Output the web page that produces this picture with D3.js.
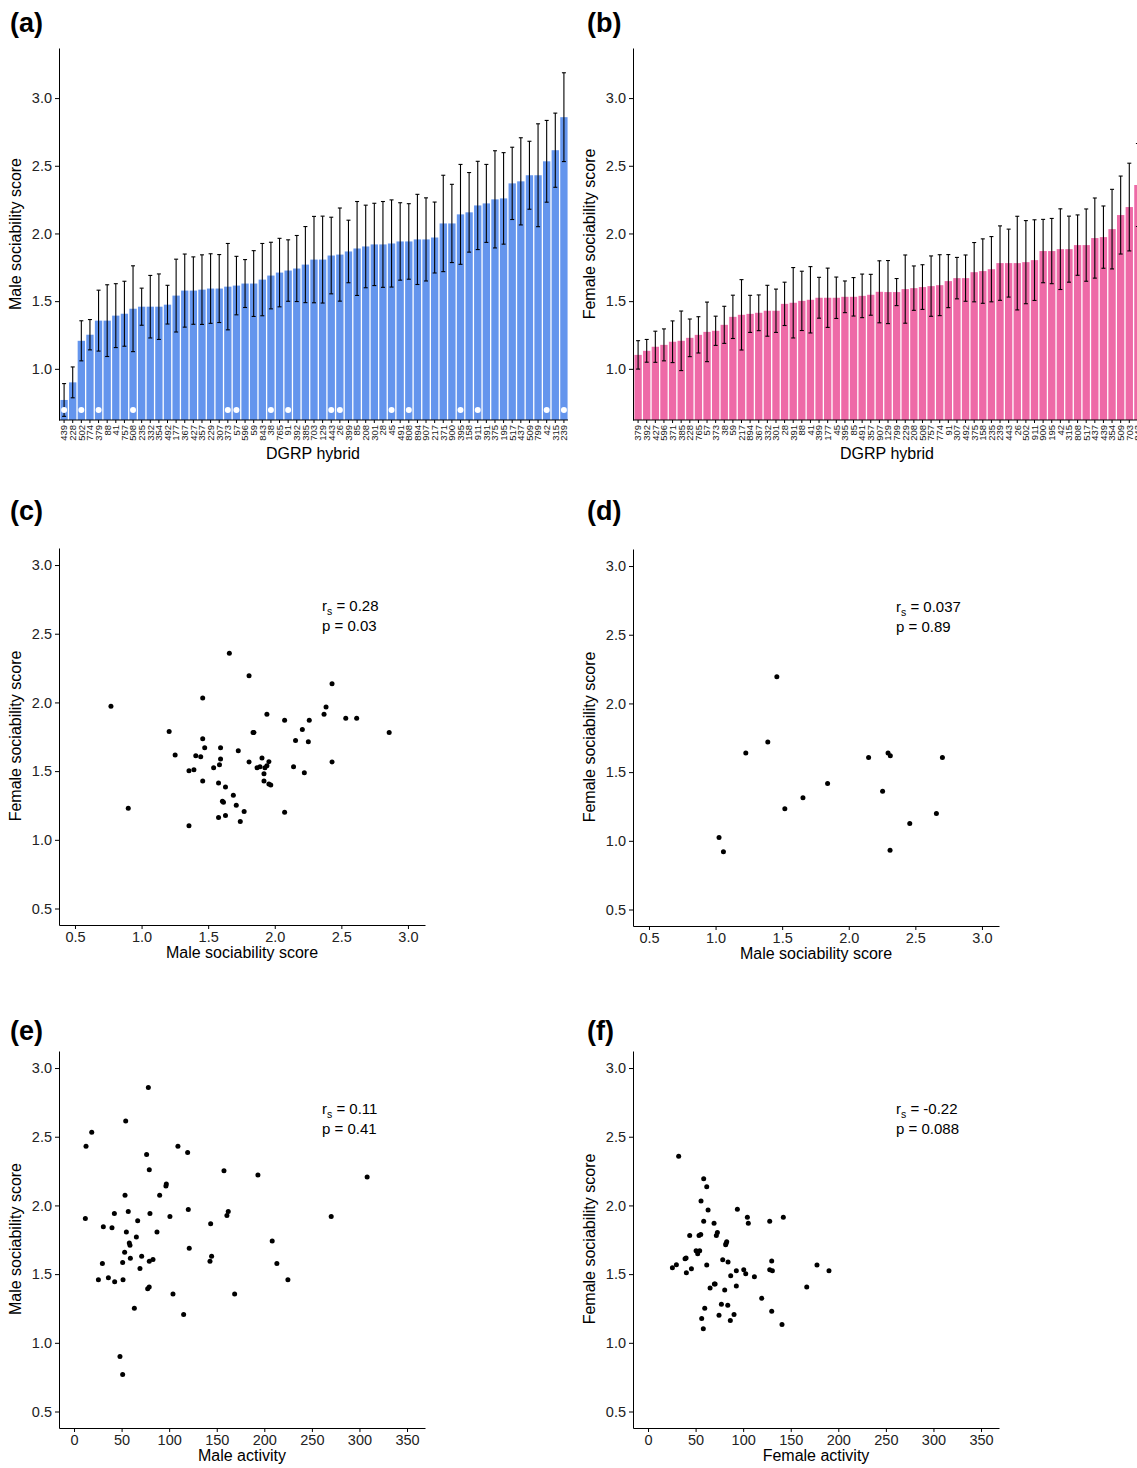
<!DOCTYPE html>
<html>
<head>
<meta charset="utf-8">
<script src="https://cdn.jsdelivr.net/npm/d3@7"></script>
<style>
  body { margin: 0; background: #fff; }
  svg { font-family: 'Liberation Sans', Arial, sans-serif; }
  .axis path, .axis line { stroke: #000; }
  .axis text { fill: #222; font-size: 14.5px; }
  .title { font-size: 16px; fill: #000; }
  .panel-label { font-size: 27px; font-weight: bold; }
  .note { font-size: 15px; fill: #000; }
</style>
</head>
<body>
<svg id="fig" width="1137" height="1468"></svg>
<script>
// panel (a) - male sociability per DGRP hybrid, sorted
const maleLines = ['439','228','502','774','379','88','41','757','508','235','332','354','492','177','367','427','357','229','307','373','57','596','59','843','38','765','91','392','385','703','129','443','26','399','85','208','301','28','45','491','808','894','907','217','371','900','395','158','911','391','375','195','517','437','509','799','42','315','239'];
const maleScore = [0.77,0.90,1.207,1.252,1.356,1.356,1.393,1.407,1.444,1.459,1.459,1.459,1.474,1.541,1.578,1.578,1.585,1.593,1.593,1.607,1.615,1.630,1.630,1.659,1.689,1.711,1.726,1.741,1.770,1.807,1.807,1.837,1.844,1.867,1.889,1.904,1.919,1.919,1.926,1.941,1.941,1.956,1.956,1.970,2.074,2.074,2.141,2.156,2.207,2.222,2.252,2.259,2.370,2.385,2.430,2.430,2.533,2.615,2.859];
const maleSE = [0.121,0.114,0.148,0.112,0.225,0.265,0.236,0.240,0.317,0.137,0.231,0.242,0.143,0.269,0.270,0.249,0.257,0.257,0.251,0.319,0.216,0.177,0.243,0.267,0.246,0.253,0.227,0.244,0.281,0.319,0.321,0.283,0.344,0.231,0.347,0.305,0.304,0.317,0.322,0.286,0.279,0.333,0.307,0.262,0.356,0.289,0.369,0.294,0.326,0.288,0.359,0.338,0.267,0.322,0.251,0.380,0.302,0.274,0.328];
const markedLines = ['439','502','379','508','373','57','38','91','443','26','45','808','395','911','42','239'];

// panel (b) - female sociability per DGRP hybrid, sorted
const femaleLines = ['379','392','427','596','371','385','228','765','57','373','38','59','217','894','367','332','301','28','391','88','41','399','177','45','395','85','491','357','907','129','799','229','208','508','757','774','91','307','492','375','158','235','239','443','26','502','911','900','195','42','315','808','517','437','439','354','509','703','843'];
const femaleScore = [1.103,1.133,1.163,1.177,1.200,1.207,1.229,1.251,1.273,1.281,1.325,1.384,1.399,1.406,1.414,1.429,1.429,1.480,1.488,1.502,1.510,1.525,1.525,1.525,1.532,1.532,1.539,1.547,1.569,1.567,1.567,1.589,1.596,1.604,1.611,1.618,1.648,1.670,1.670,1.714,1.722,1.736,1.781,1.781,1.781,1.788,1.803,1.870,1.870,1.884,1.884,1.914,1.914,1.966,1.973,2.032,2.136,2.195,2.358];
const femaleSE = [0.105,0.084,0.115,0.118,0.154,0.220,0.139,0.134,0.220,0.108,0.137,0.160,0.260,0.137,0.132,0.188,0.160,0.160,0.260,0.219,0.245,0.151,0.219,0.153,0.117,0.142,0.161,0.151,0.229,0.233,0.100,0.252,0.164,0.165,0.223,0.225,0.196,0.153,0.171,0.219,0.238,0.241,0.275,0.251,0.346,0.307,0.298,0.234,0.241,0.298,0.244,0.223,0.267,0.296,0.230,0.294,0.288,0.324,0.307];

// panel (d) - the 16 marked lines, second measurement
const dMale = [1.460,1.392,1.227,2.149,2.295,2.312,2.703,1.841,2.254,1.656,1.520,2.658,2.458,1.026,1.059,2.310];
const dFemale = [2.195,1.720,1.640,1.606,1.640,1.620,1.606,1.418,1.360,1.314,1.234,1.199,1.126,1.024,0.920,0.932];

// panels (e), (f) - activity, same order as maleLines / femaleLines
const maleActivity = [51.1,48.3,115.2,63.4,104,168.8,77.4,79,42.7,25.6,224.8,51.5,36.1,69.3,29.8,213.2,51.1,142.9,79.1,83,59.2,71.1,144.6,53.2,121.1,58.8,58.1,208.3,65.5,87.2,55,39.9,30.8,143.6,66.9,11.9,270.3,100.8,160.7,79.8,42.4,162.1,57.0,120.1,90,53.6,96.6,97,308.1,193.3,157.6,79.1,76.3,119.4,12.6,109.2,18.6,54.3,78.1];
const femaleActivity = [58.1,140.8,86.5,56.4,74.6,90.4,130,59.6,83.8,77.1,119.5,80.6,65.2,166.8,92.8,69.7,70.5,111.8,86.9,102.7,40.3,190.2,130.7,92.8,127.9,100.6,45.6,25.6,29.8,61.7,177.6,84.1,130,78.5,38.9,40,52.2,50.5,54.3,81.6,82,82.7,43.8,53.6,71.8,55.4,72.9,69.4,105.4,127.9,58.5,104.4,142.2,63.1,93.9,55.7,61.7,58.5,32.2];

const scoreTicks = [0.5, 1.0, 1.5, 2.0, 2.5, 3.0];
const activityTicks = [0, 50, 100, 150, 200, 250, 300, 350];

const svg = d3.select('#fig');
const fmt = d3.format('.1f');

function yTitle(x, yc, text) {
  svg.append('text').attr('class', 'title')
    .attr('transform', `translate(${x},${yc}) rotate(-90)`)
    .attr('text-anchor', 'middle').text(text);
}

function barPanel(ox, lines, scores, se, color, title, marked) {
  const x = d3.scaleBand().domain(lines).range([ox + 1, ox + 509]).paddingInner(0.15).paddingOuter(0.05);
  const y = d3.scaleLinear().domain([0.622, 3.37]).range([420, 48]);
  const g = svg.append('g');
  const rows = lines.map((l, i) => ({line: l, v: scores[i], e: se[i]}));

  g.selectAll('rect').data(rows).join('rect')
    .attr('x', d => x(d.line)).attr('width', x.bandwidth())
    .attr('y', d => y(d.v)).attr('height', d => y.range()[0] - y(d.v))
    .attr('fill', color);

  const cx = d => x(d.line) + x.bandwidth() / 2;
  const eb = g.selectAll('g.err').data(rows).join('g').attr('class', 'err')
    .attr('stroke', '#000').attr('stroke-width', 1.1);
  eb.append('line').attr('x1', cx).attr('x2', cx)
    .attr('y1', d => y(d.v - d.e)).attr('y2', d => y(d.v + d.e));
  eb.append('line').attr('x1', d => cx(d) - 2).attr('x2', d => cx(d) + 2)
    .attr('y1', d => y(d.v + d.e)).attr('y2', d => y(d.v + d.e));
  eb.append('line').attr('x1', d => cx(d) - 2).attr('x2', d => cx(d) + 2)
    .attr('y1', d => y(d.v - d.e)).attr('y2', d => y(d.v - d.e));

  if (marked) {
    g.selectAll('circle').data(rows.filter(d => marked.includes(d.line))).join('circle')
      .attr('cx', cx).attr('cy', 410).attr('r', 3).attr('fill', '#fff');
  }

  svg.append('g').attr('class', 'axis')
    .attr('transform', `translate(${ox},0)`)
    .call(d3.axisLeft(y).tickValues([1, 1.5, 2, 2.5, 3]).tickFormat(fmt).tickSize(4).tickSizeOuter(0));

  const ax = svg.append('g').attr('class', 'axis')
    .attr('transform', `translate(0,420)`)
    .call(d3.axisBottom(x).tickSize(3).tickSizeOuter(0));
  ax.select('.domain').attr('d', `M${ox},0H${ox + 509}`);
  ax.selectAll('text')
    .attr('transform', 'rotate(-90)').attr('text-anchor', 'end')
    .attr('x', -5).attr('y', 0).attr('dy', '0.35em')
    .style('font-size', '9.5px');

  svg.append('text').attr('class', 'title').attr('x', ox + 254).attr('y', 459)
    .attr('text-anchor', 'middle').text('DGRP hybrid');
  yTitle(ox - 38, 234, title);
}

function scatterPanel(ox, oy, xs, ys, xDomain, xTicks, xFmt, xTitle, yTitleText, rs, p) {
  const x = d3.scaleLinear().domain(xDomain).range([ox, ox + 366]);
  const y = d3.scaleLinear().domain([0.38, 3.124]).range([oy + 377, oy]);
  const bottom = oy + 377;

  svg.append('g').selectAll('circle').data(xs.map((v, i) => [v, ys[i]])).join('circle')
    .attr('cx', d => x(d[0])).attr('cy', d => y(d[1])).attr('r', 2.5).attr('fill', '#000');

  svg.append('g').attr('class', 'axis')
    .attr('transform', `translate(${ox},0)`)
    .call(d3.axisLeft(y).tickValues(scoreTicks).tickFormat(fmt).tickSize(4).tickSizeOuter(0));
  svg.append('g').attr('class', 'axis')
    .attr('transform', `translate(0,${bottom})`)
    .call(d3.axisBottom(x).tickValues(xTicks).tickFormat(xFmt).tickSize(4).tickSizeOuter(0));

  svg.append('text').attr('class', 'title').attr('x', ox + 183).attr('y', bottom + 33)
    .attr('text-anchor', 'middle').text(xTitle);
  yTitle(ox - 38, oy + 188, yTitleText);

  const t = svg.append('text').attr('class', 'note').attr('x', ox + 263).attr('y', oy + 63);
  t.append('tspan').text('r');
  t.append('tspan').attr('dy', 4).style('font-size', '10.5px').text('s');
  t.append('tspan').attr('dy', -4).text(' = ' + rs);
  svg.append('text').attr('class', 'note').attr('x', ox + 263).attr('y', oy + 83).text('p = ' + p);
}

barPanel(59, maleLines, maleScore, maleSE, '#6495ED', 'Male sociability score', markedLines);
barPanel(633, femaleLines, femaleScore, femaleSE, '#EE6AA7', 'Female sociability score', null);

// (c) male vs female score, joined by line
const femaleByLine = new Map(femaleLines.map((l, i) => [l, femaleScore[i]]));
scatterPanel(59, 548, maleScore, maleLines.map(l => femaleByLine.get(l)), [0.38, 3.128], scoreTicks, fmt,
  'Male sociability score', 'Female sociability score', '0.28', '0.03');
scatterPanel(633, 549, dMale, dFemale, [0.38, 3.128], scoreTicks, fmt,
  'Male sociability score', 'Female sociability score', '0.037', '0.89');
scatterPanel(59, 1051, maleActivity, maleScore, [-15.8, 368.9], activityTicks, d3.format('d'),
  'Male activity', 'Male sociability score', '0.11', '0.41');
scatterPanel(633, 1051, femaleActivity, femaleScore, [-15.8, 368.9], activityTicks, d3.format('d'),
  'Female activity', 'Female sociability score', '-0.22', '0.088');

const labels = [['(a)', 10, 32], ['(b)', 587, 32], ['(c)', 10, 520], ['(d)', 587, 520], ['(e)', 10, 1040], ['(f)', 587, 1040]];
svg.selectAll('text.panel-label').data(labels).join('text').attr('class', 'panel-label')
  .attr('x', d => d[1]).attr('y', d => d[2]).text(d => d[0]);
</script>
</body>
</html>
